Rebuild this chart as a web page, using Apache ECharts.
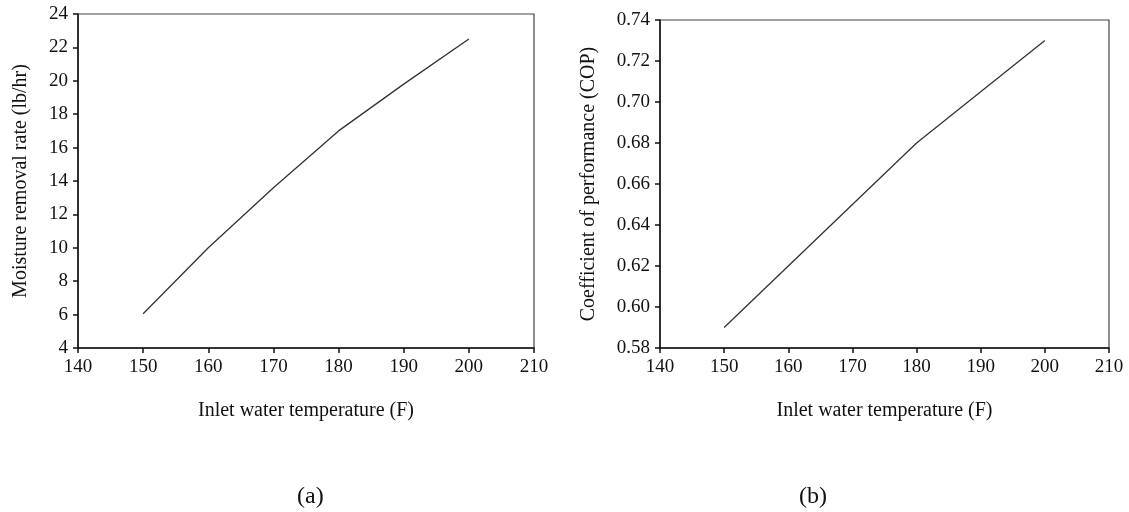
<!DOCTYPE html>
<html>
<head>
<meta charset="utf-8">
<script src="https://cdn.jsdelivr.net/npm/echarts@6/dist/echarts.min.js"></script>
<style>
  html, body { margin: 0; padding: 0; background: #fff; }
  #main { width: 1129px; height: 512px; }
</style>
</head>
<body>
<div id="main"></div>
<script>
// inlet water temperature (F)
var temps = [150, 160, 170, 180, 190, 200];
// (a) moisture removal rate (lb/hr)
var moisture = [6.05, 10, 13.6, 17, 19.8, 22.5];
// (b) coefficient of performance
var cop = [0.59, 0.62, 0.65, 0.68, 0.705, 0.73];

var font = 'Liberation Serif';

function pairs(xs, ys) {
    return xs.map(function (x, i) { return [x, ys[i]]; });
}

function xAxisOf(gridIndex) {
    return {
        type: 'value',
        gridIndex: gridIndex,
        min: 140,
        max: 210,
        interval: 10,
        name: 'Inlet water temperature (F)',
        nameLocation: 'middle',
        nameGap: 53,
        nameTextStyle: {fontFamily: font, fontSize: 20, color: '#111'},
        axisLine: {show: true, lineStyle: {color: '#111', width: 1.5}},
        axisTick: {show: true, inside: false, length: 5, lineStyle: {color: '#111', width: 1.5}},
        axisLabel: {fontFamily: font, fontSize: 19, color: '#111', margin: 10},
        splitLine: {show: false}
    };
}

function yAxisOf(gridIndex, min, max, step, name, gap, digits) {
    return {
        type: 'value',
        gridIndex: gridIndex,
        min: min,
        max: max,
        interval: step,
        name: name,
        nameLocation: 'middle',
        nameGap: gap,
        nameTextStyle: {fontFamily: font, fontSize: 20, color: '#111'},
        axisLine: {show: true, lineStyle: {color: '#111', width: 1.5}},
        axisTick: {show: true, inside: false, length: 5, lineStyle: {color: '#111', width: 1.5}},
        axisLabel: {
            fontFamily: font, fontSize: 19, color: '#111', margin: 10,
            formatter: function (v) { return v.toFixed(digits); }
        },
        splitLine: {show: false}
    };
}

var option = {
    animation: false,
    backgroundColor: '#fff',
    title: [
        {text: '(a)', left: 292, top: 480, textStyle: {fontFamily: font, fontSize: 24, fontWeight: 'normal', color: '#111'}},
        {text: '(b)', left: 794, top: 480, textStyle: {fontFamily: font, fontSize: 24, fontWeight: 'normal', color: '#111'}}
    ],
    grid: [
        {left: 78, top: 14, width: 456, height: 334, show: true, borderColor: '#444', borderWidth: 1.2},
        {left: 660, top: 20, width: 449, height: 328, show: true, borderColor: '#444', borderWidth: 1.2}
    ],
    xAxis: [xAxisOf(0), xAxisOf(1)],
    yAxis: [
        yAxisOf(0, 4, 24, 2, 'Moisture removal rate (lb/hr)', 47, 0),
        yAxisOf(1, 0.58, 0.74, 0.02, 'Coefficient of performance (COP)', 61, 2)
    ],
    series: [
        {
            type: 'line', xAxisIndex: 0, yAxisIndex: 0,
            data: pairs(temps, moisture),
            showSymbol: false,
            lineStyle: {color: '#333', width: 1.3}
        },
        {
            type: 'line', xAxisIndex: 1, yAxisIndex: 1,
            data: pairs(temps, cop),
            showSymbol: false,
            lineStyle: {color: '#333', width: 1.3}
        }
    ]
};

var chart = echarts.init(document.getElementById('main'));
chart.setOption(option);
</script>
</body>
</html>
